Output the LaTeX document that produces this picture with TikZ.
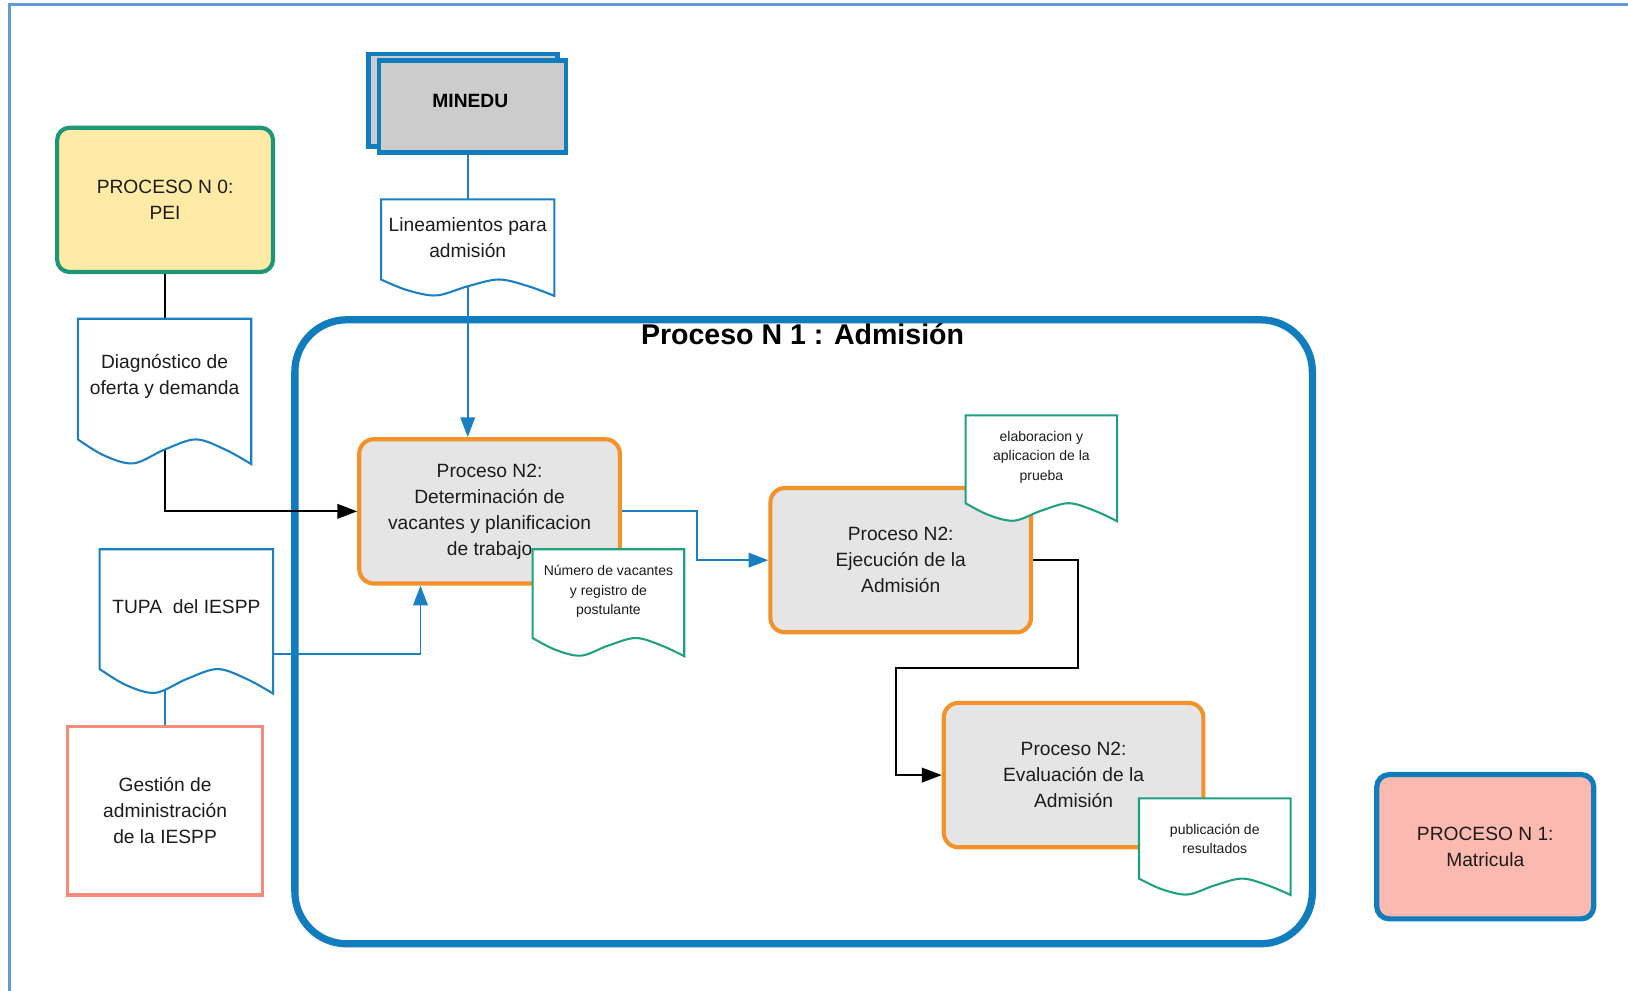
\documentclass[tikz,border=0pt]{standalone}
\usepackage{fontspec}
\setmainfont{Liberation Sans}
\usetikzlibrary{arrows.meta,calc}

\definecolor{ink}{RGB}{28,28,28}
\definecolor{framecol}{RGB}{96,156,214}
\definecolor{boxblue}{RGB}{17,124,190}
\definecolor{linkblue}{RGB}{26,128,196}
\definecolor{docgreen}{RGB}{32,160,128}
\definecolor{peigreen}{RGB}{30,150,120}
\definecolor{peiyellow}{RGB}{255,235,166}
\definecolor{procorange}{RGB}{243,146,42}
\definecolor{procgray}{RGB}{229,229,229}
\definecolor{minedugray}{RGB}{204,204,204}
\definecolor{salmon}{RGB}{248,138,124}
\definecolor{pinkfill}{RGB}{252,185,175}

\pgfdeclarelayer{bg}
\pgfdeclarelayer{links}
\pgfsetlayers{bg,links,main}

% document shape: flat top, wavy bottom; #1 name, #2 left, #3 top, #4 width, #5 height, #6 colour
\newcommand\docshape[6]{%
  \node[docframe, minimum width=#4pt, minimum height=#5pt] (#1) at ({#2+#4/2},{-#3-#5/2}) {};
  \draw[docline, draw=#6] (#2,-#3) -- ({#2+#4},-#3)
    -- plot[smooth, tension=0.55] coordinates {
      ({#2+#4},{-#3-#5})
      ({#2+0.85*#4},{-#3-0.90*#5})
      ({#2+0.68*#4},{-#3-0.83*#5})
      ({#2+0.50*#4},{-#3-0.90*#5})
      ({#2+0.32*#4},{-#3-0.995*#5})
      ({#2+0.15*#4},{-#3-0.94*#5})
      (#2,{-#3-0.83*#5})}
    -- cycle;
}

\begin{document}
\begin{tikzpicture}[x=1pt,y=1pt,
  txt/.style={font=\fontsize{18.5}{25}\selectfont, text=ink, align=center},
  smalltxt/.style={font=\fontsize{13.5}{18.5}\selectfont, text=ink, align=center},
  procbox/.style={rectangle, rounded corners=14pt, draw=procorange, fill=procgray,
    line width=4pt, inner sep=0pt, minimum width=251pt, minimum height=139pt, txt},
  minedubox/.style={rectangle, draw=boxblue, fill=minedugray, line width=4.5pt, inner sep=0pt},
  docframe/.style={rectangle, draw=none, inner sep=0pt},
  docline/.style={line width=2pt, fill=white, line join=miter},
  bluelink/.style={draw=linkblue, line width=1.8pt},
  blacklink/.style={draw=black, line width=1.8pt},
  arrowend/.style={-{Triangle[length=19pt,width=14pt]}}
]
\useasboundingbox (0,0) rectangle (1568,-954);

% outer frame and the admission container
\begin{pgfonlayer}{bg}
  \draw[framecol, line width=3pt] (9,-954) -- (9,-4) -- (1568,-4);
  \node[rectangle, rounded corners=50pt, draw=boxblue, line width=7pt,
        minimum width=980pt, minimum height=601pt] (adm) at (774,-608.5) {};
\end{pgfonlayer}
\node[font=\fontsize{27.5}{32}\selectfont\bfseries, text=black] (admtitle) at (773,-322) {Proceso N 1 : Admisión};

% MINEDU (stacked boxes)
\node[minedubox, minimum width=182pt, minimum height=89pt] (mineduback) at (446,-96.5) {};
\node[minedubox, minimum width=180pt, minimum height=89pt] (minedu) at (455,-102.5) {};
\node[font=\fontsize{18.5}{25}\selectfont\bfseries, text=black] (minedutext) at (453,-97) {MINEDU};

% side processes
\node[rectangle, rounded corners=12pt, draw=peigreen, fill=peiyellow, line width=4pt,
      inner sep=0pt, minimum width=208pt, minimum height=139pt, txt] (pei) at (159,-192.5)
      {PROCESO N 0:\\PEI};
\node[rectangle, draw=salmon, fill=white, line width=3pt, inner sep=0pt,
      minimum width=188pt, minimum height=162pt, txt] (gest) at (159,-781)
      {Gestión de\\administración\\de la IESPP};
\node[rectangle, rounded corners=12pt, draw=boxblue, fill=pinkfill, line width=5pt,
      inner sep=0pt, minimum width=209pt, minimum height=139pt, txt] (matr) at (1430.5,-815.5)
      {PROCESO N 1:\\Matricula};

% sub-processes of admission
\node[procbox] (p2) at (471.5,-492.5) {Proceso N2:\\Determinación de\\vacantes y planificacion\\de trabajo};
\node[procbox] (ejec) at (867.5,-539.5) {Proceso N2:\\Ejecución de la\\Admisión};
\node[procbox, minimum width=250pt] (eval) at (1034,-746.5) {Proceso N2:\\Evaluación de la\\Admisión};

% documents
\docshape{lin}{367}{192}{167}{93}{linkblue}
\node[txt] (lintext) at (450.5,-228.5) {Lineamientos para\\admisión};
\docshape{diag}{75}{307}{167}{140}{linkblue}
\node[txt] (diagtext) at (158.5,-362.5) {Diagnóstico de\\oferta y demanda};
\docshape{tupa}{96}{529}{167}{139}{linkblue}
\node[txt] (tupatext) at (179.5,-584) {TUPA\ \ del IESPP};
\docshape{num}{513}{529}{146}{103}{docgreen}
\node[smalltxt] (numtext) at (586,-569.5) {Número de vacantes\\y registro de\\postulante};
\docshape{elab}{930}{400}{146}{102}{docgreen}
\node[smalltxt] (elabtext) at (1003,-440.5) {elaboracion y\\aplicacion de la\\prueba};
\docshape{pub}{1097}{769}{146}{93}{docgreen}
\node[smalltxt] (pubtext) at (1170,-808) {publicación de\\resultados};

% connectors
\begin{pgfonlayer}{links}
  \draw[bluelink] (lin.center |- minedu.center) -- (lin.center);
  \draw[bluelink, arrowend] (lin.center) -- (lin.center |- p2.north);
  \draw[blacklink] (diag.center |- pei.center) -- (diag.center);
  \draw[blacklink, arrowend] (diag.center) |- (p2.west);
  \draw[bluelink] (gest.center |- tupa.center) -- (gest.center);
  \draw[bluelink, arrowend] ([yshift=-31.5pt]tupa.east) -| ([xshift=-66.5pt]p2.south);
  \draw[bluelink, arrowend] (p2.east) -- ++(72,0) |- (ejec.west);
  \draw[blacklink, arrowend] (ejec.east) -- ++(43,0) -- ++(0,-103.5)
        -| ([xshift=-44pt]eval.west) -- (eval.west);
\end{pgfonlayer}
\end{tikzpicture}
\end{document}
